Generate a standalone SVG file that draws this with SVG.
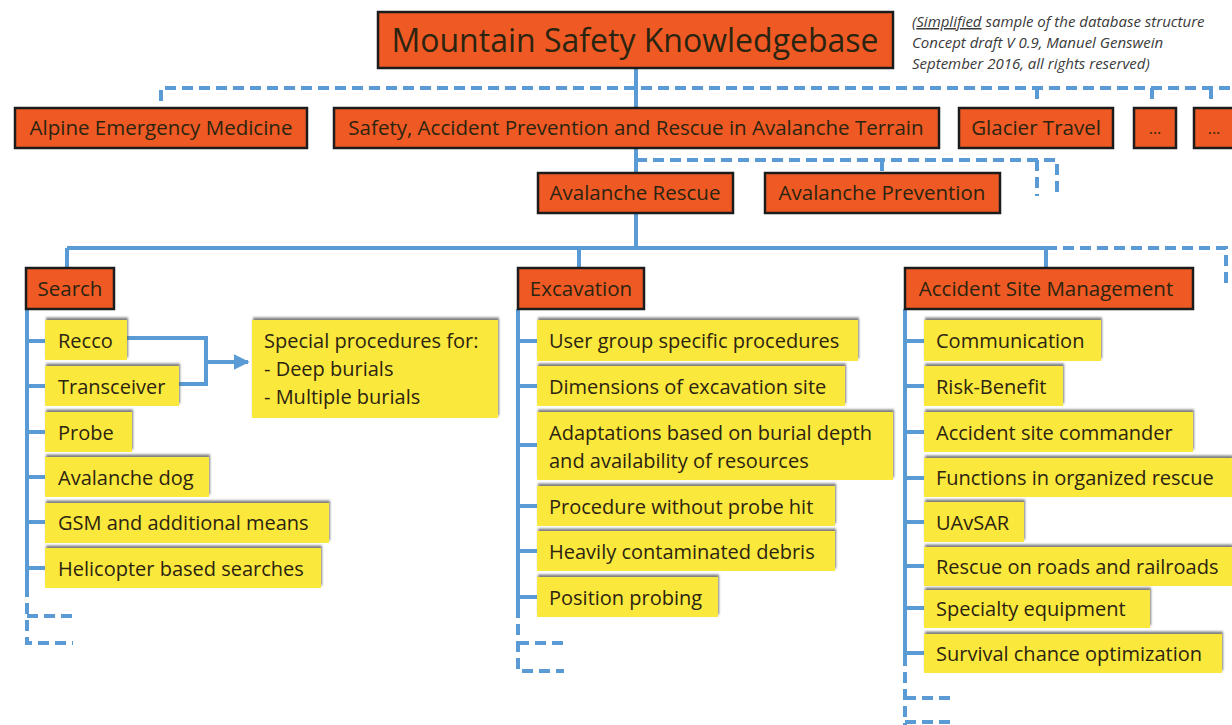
<svg xmlns="http://www.w3.org/2000/svg" width="1232" height="725" viewBox="0 0 1232 725">
<defs>
<filter id="sh" x="-5%" y="-20%" width="110%" height="140%">
<feDropShadow dx="1" dy="-2.5" stdDeviation="0.8" flood-color="#555" flood-opacity="0.75"/>
</filter>
<marker id="arr" viewBox="0 0 10 10" refX="9" refY="5" markerWidth="4" markerHeight="4" orient="auto" markerUnits="strokeWidth">
<path d="M0,0 L10,5 L0,10 z" fill="#5B9BD5"/>
</marker>
</defs>
<style>
.o{fill:#EF5A24;stroke:#1c1c1c;stroke-width:2.5}
.y{fill:#FBE83C;filter:url(#sh)}
text{font-family:"Open Sans","Liberation Sans",sans-serif;fill:#2b2410}
.t2{font-size:20.5px}
.th{font-size:20.5px}
.ti{font-size:20px}
.s{stroke:#5B9BD5;stroke-width:4;fill:none}
.d{stroke:#5B9BD5;stroke-width:4;fill:none;stroke-dasharray:11 6}
.note{font-size:15px;font-style:italic;fill:#3a3a3a}
</style>
<rect width="1232" height="725" fill="#fff"/>

<g id="connectors">
<path class="s" d="M636 68 V108 M636 148 V173 M636 213 V248 M67 248 H1046 M67 248 V268 M579 248 V268 M1046 248 V268"/>
<path class="d" d="M161 101 V88 H1232 M1037 88 V101 M1152 88 V101 M1211 88 V101"/>
<path class="d" d="M636 160 H1057 V196 M1037 160 V196 M882 160 V173"/>
<path class="d" d="M1046 248 H1226 V284"/>
<path class="s" d="M27 309 V586 M27 341 H45 M27 386 H45 M27 432 H45 M27 477 H45 M27 522 H45 M27 568 H45"/>
<path class="d" d="M27 586 V643 H73 M27 616 H73"/>
<path class="s" d="M127 338 H206 V384 H179 M206 362 H248" marker-end="url(#arr)"/>
<path class="s" d="M518 309 V607 M518 341 H537 M518 386 H537 M518 445 H537 M518 506 H537 M518 551 H537 M518 597 H537"/>
<path class="d" d="M518 607 V671 H564 M518 643 H564"/>
<path class="s" d="M905 309 V655 M905 341 H924 M905 386 H924 M905 432 H924 M905 478 H924 M905 522 H924 M905 566 H924 M905 608 H924 M905 653 H924"/>
<path class="d" d="M905 655 V725 M905 698 H952 M905 722 H952"/>
</g>

<g id="n-root"><rect class="o" x="378" y="12" width="515" height="56"/><text x="635" y="52" text-anchor="middle" font-size="32">Mountain Safety Knowledgebase</text></g>
<g id="n-note">
<text class="note" x="912" y="27">(<tspan text-decoration="underline">Simplified</tspan> sample of the database structure</text>
<text class="note" x="912" y="48">Concept draft V 0.9, Manuel Genswein</text>
<text class="note" x="912" y="69">September 2016, all rights reserved)</text>
</g>

<g id="n-aem"><rect class="o" x="15" y="108" width="292" height="40"/><text class="t2" x="161" y="135" text-anchor="middle">Alpine Emergency Medicine</text></g>
<g id="n-safety"><rect class="o" x="334" y="108" width="605" height="40"/><text class="t2" x="636" y="135" text-anchor="middle">Safety, Accident Prevention and Rescue in Avalanche Terrain</text></g>
<g id="n-glacier"><rect class="o" x="959" y="108" width="154" height="40"/><text class="t2" x="1036" y="135" text-anchor="middle">Glacier Travel</text></g>
<g id="n-dots1"><rect class="o" x="1134" y="108" width="42" height="40"/><text x="1155" y="134" text-anchor="middle" font-size="16">...</text></g>
<g id="n-dots2"><rect class="o" x="1194" y="108" width="44" height="40"/><text x="1214" y="134" text-anchor="middle" font-size="16">...</text></g>

<g id="n-rescue"><rect class="o" x="538" y="173" width="195" height="40"/><text class="t2" x="635" y="200" text-anchor="middle">Avalanche Rescue</text></g>
<g id="n-prevention"><rect class="o" x="765" y="173" width="235" height="40"/><text class="t2" x="882" y="200" text-anchor="middle">Avalanche Prevention</text></g>

<g id="n-search"><rect class="o" x="26" y="268" width="88" height="41"/><text class="th" x="70" y="296" text-anchor="middle">Search</text></g>
<g id="n-excavation"><rect class="o" x="518" y="268" width="126" height="41"/><text class="th" x="581" y="296" text-anchor="middle">Excavation</text></g>
<g id="n-asm"><rect class="o" x="905" y="268" width="288" height="41"/><text class="th" x="1046" y="296" text-anchor="middle">Accident Site Management</text></g>

<g id="s1"><rect class="y" x="45" y="320" width="82" height="40"/><text class="ti" x="58" y="348">Recco</text></g>
<g id="s2"><rect class="y" x="45" y="366" width="134" height="40"/><text class="ti" x="58" y="394">Transceiver</text></g>
<g id="s3"><rect class="y" x="45" y="412" width="87" height="40"/><text class="ti" x="58" y="440">Probe</text></g>
<g id="s4"><rect class="y" x="45" y="457" width="164" height="40"/><text class="ti" x="58" y="485">Avalanche dog</text></g>
<g id="s5"><rect class="y" x="45" y="503" width="284" height="40"/><text class="ti" x="58" y="530">GSM and additional means</text></g>
<g id="s6"><rect class="y" x="45" y="548" width="276" height="40"/><text class="ti" x="58" y="576">Helicopter based searches</text></g>
<g id="s-special"><rect class="y" x="252" y="320" width="246" height="98"/>
<text class="ti" x="264" y="348">Special procedures for:</text>
<text class="ti" x="264" y="376">- Deep burials</text>
<text class="ti" x="264" y="404">- Multiple burials</text></g>

<g id="e1"><rect class="y" x="537" y="320" width="321" height="41"/><text class="ti" x="549" y="348">User group specific procedures</text></g>
<g id="e2"><rect class="y" x="537" y="366" width="308" height="40"/><text class="ti" x="549" y="394">Dimensions of excavation site</text></g>
<g id="e3"><rect class="y" x="537" y="412" width="356" height="68"/><text class="ti" x="549" y="440">Adaptations based on burial depth</text><text class="ti" x="549" y="468">and availability of resources</text></g>
<g id="e4"><rect class="y" x="537" y="486" width="298" height="40"/><text class="ti" x="549" y="514">Procedure without probe hit</text></g>
<g id="e5"><rect class="y" x="537" y="531" width="298" height="40"/><text class="ti" x="549" y="559">Heavily contaminated debris</text></g>
<g id="e6"><rect class="y" x="537" y="577" width="181" height="40"/><text class="ti" x="549" y="605">Position probing</text></g>

<g id="a1"><rect class="y" x="924" y="320" width="177" height="41"/><text class="ti" x="936" y="348">Communication</text></g>
<g id="a2"><rect class="y" x="924" y="366" width="139" height="40"/><text class="ti" x="936" y="394">Risk-Benefit</text></g>
<g id="a3"><rect class="y" x="924" y="412" width="269" height="40"/><text class="ti" x="936" y="440">Accident site commander</text></g>
<g id="a4"><rect class="y" x="924" y="458" width="308" height="39"/><text class="ti" x="936" y="485">Functions in organized rescue</text></g>
<g id="a5"><rect class="y" x="924" y="502" width="100" height="40"/><text class="ti" x="936" y="530">UAvSAR</text></g>
<g id="a6"><rect class="y" x="924" y="547" width="308" height="39"/><text class="ti" x="936" y="574">Rescue on roads and railroads</text></g>
<g id="a7"><rect class="y" x="924" y="590" width="226" height="38"/><text class="ti" x="936" y="616">Specialty equipment</text></g>
<g id="a8"><rect class="y" x="924" y="634" width="298" height="39"/><text class="ti" x="936" y="661">Survival chance optimization</text></g>
</svg>
